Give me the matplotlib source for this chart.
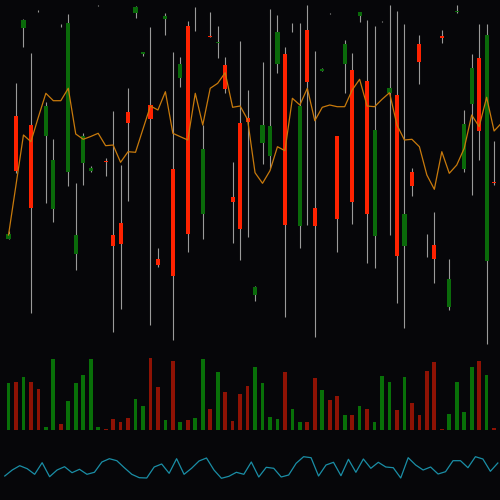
import numpy as np
import matplotlib
matplotlib.use("Agg")
import matplotlib.pyplot as plt

# ---- data ----
opens = [31.13, 43.40, 52.23, 42.50, 53.93, 41.40, 34.10, 52.48, 37.83, 29.60,
         38.67, 37.93, 54.50, 38.90, 31.50, 32.73, 43.83, 53.73, 49.60, 44.50,
         29.07, 53.10, 38.10, 47.17, 52.40, 52.99, 33.60, 51.43, 50.67, 48.50,
         35.27, 42.73, 43.17, 25.50, 40.73, 39.40, 48.57, 49.60, 52.29, 32.43,
         52.00, 34.17, 47.93, 53.67, 41.43, 48.60, 48.00, 53.43, 46.93, 31.43,
         52.89, 45.67, 45.50, 30.40, 37.83, 50.57, 30.50, 30.50, 51.43, 24.33,
         53.77, 38.10, 44.60, 49.17, 28.93, 36.83, 38.83]
highs = [31.90, 46.67, 53.10, 49.73, 54.00, 44.83, 41.07, 52.60, 53.60, 36.73,
         41.67, 38.40, 54.55, 39.17, 43.90, 38.50, 46.17, 54.40, 49.83, 52.27,
         30.17, 53.67, 49.83, 49.33, 52.90, 54.33, 42.50, 53.77, 52.43, 49.33,
         38.83, 50.90, 46.00, 26.40, 48.83, 54.10, 53.50, 50.33, 52.67, 52.73,
         54.50, 49.90, 48.17, 53.73, 41.43, 51.00, 49.73, 53.83, 53.00, 52.43,
         52.95, 54.50, 53.90, 52.60, 38.17, 51.50, 31.57, 33.83, 52.00, 29.10,
         54.50, 44.00, 49.60, 52.60, 52.60, 40.90, 51.00]
lows = [31.13, 37.67, 50.33, 23.67, 53.83, 34.67, 32.83, 52.33, 36.43, 28.00,
        36.50, 37.83, 54.43, 37.40, 21.83, 24.07, 34.93, 53.17, 49.40, 22.50,
        28.33, 51.50, 21.00, 46.33, 29.77, 51.90, 31.07, 51.27, 49.23, 45.73,
        30.67, 29.00, 31.33, 24.90, 38.60, 38.17, 47.67, 23.27, 51.83, 30.17,
        32.50, 21.33, 47.90, 53.60, 29.83, 45.73, 32.60, 52.83, 28.73, 28.17,
        52.83, 31.50, 24.67, 22.17, 35.43, 46.57, 29.27, 26.73, 50.73, 24.00,
        53.67, 37.83, 35.50, 39.00, 20.60, 36.50, 35.00]
closes = [31.57, 37.90, 53.00, 34.23, 53.92, 44.40, 39.00, 52.47, 52.67, 31.50,
          41.40, 38.17, 54.51, 38.77, 30.40, 30.60, 42.73, 54.33, 49.83, 43.10,
          28.50, 53.40, 27.40, 48.60, 31.60, 53.00, 40.07, 51.27, 50.80, 46.07,
          34.83, 32.07, 42.83, 26.27, 42.50, 42.43, 51.77, 32.50, 52.30, 44.40,
          46.83, 32.40, 48.07, 53.66, 33.10, 50.60, 34.83, 53.77, 33.60, 42.00,
          52.90, 46.23, 29.40, 33.60, 36.43, 48.83, 30.49, 29.07, 51.23, 27.10,
          53.93, 42.60, 48.23, 41.93, 51.50, 36.67, 49.73]
volumes = [4670, 4770, 5270, 4830, 4100, 330, 7100, 600, 2900, 4670,
           5500, 7100, 270, 100, 1100, 770, 1200, 3070, 2400, 7230,
           4330, 1000, 6930, 800, 1000, 1170, 7100, 2100, 5770, 3830,
           930, 3600, 4400, 6270, 4730, 1300, 1100, 5830, 2100, 830,
           830, 5170, 3970, 3000, 3370, 1500, 1500, 2400, 2100, 830,
           5400, 4770, 2030, 5270, 2700, 1500, 5870, 6800, 100, 1630,
           4800, 1830, 6300, 6900, 5530, 200, 2930]
ma_line = [31.50, 36.50, 41.50, 40.83, 43.30, 45.67, 44.93, 44.93, 46.17, 41.60,
           41.07, 41.35, 41.67, 40.43, 40.50, 38.77, 39.83, 39.77, 42.10, 44.40,
           44.00, 45.83, 41.67, 41.33, 41.00, 45.67, 42.50, 46.17, 46.67, 47.73,
           44.27, 44.40, 43.05, 37.73, 36.67, 37.93, 40.33, 39.93, 45.17, 44.50,
           46.17, 42.93, 44.27, 44.50, 44.33, 44.33, 46.00, 47.07, 44.40, 44.33,
           45.07, 45.73, 42.50, 41.00, 41.07, 40.33, 37.50, 36.07, 39.83, 37.67,
           38.50, 40.17, 43.50, 42.33, 45.27, 41.90, 42.70]
oscillator = [35, 50, 60.75, 53.25, 39.25, 68.25, 33.25, 50, 58.25, 43.25,
              51.75, 39.25, 44.25, 70, 78.25, 73.25, 55.75, 39.25, 30.75, 30,
              57.5, 65, 41.75, 78.25, 39.25, 54.25, 72.5, 80, 50, 29.25,
              34.25, 44.25, 39.25, 70, 32.5, 56.75, 54.25, 32.5, 37.5, 66.75,
              83.25, 80.75, 35, 62.5, 69.25, 35.75, 76.75, 44.25, 77.5, 54.25,
              69.25, 57.5, 55.75, 30, 80.75, 62.5, 50, 57.5, 40, 45.75,
              73.25, 73.25, 55.75, 83.25, 77.5, 46.75, 67.5]

# ---- style ----
BG = "#060609"
UP_BODY = "#0a6a0a"
DN_BODY = "#ff2200"
UP_VOL = "#087008"
DN_VOL = "#8e1204"
WICK = "#9a9a9a"
MA_COL = "#c87a0c"
OSC_COL = "#1a8ea6"

o = np.array(opens); h = np.array(highs); l = np.array(lows); c = np.array(closes)
v = np.array(volumes)
x = np.arange(len(o))
up = c >= o

fig = plt.figure(figsize=(5, 5), dpi=100, facecolor=BG)
xl = (-1.14, 65.79)

ax = fig.add_axes([0, 0.3, 1, 0.7], facecolor=BG)
ax.vlines(x, l, h, color=WICK, linewidth=0.8, zorder=1)
body_bottom = np.minimum(o, c)
diff = np.abs(c - o)
body_h = np.where(diff < 0.05, 0.0, np.maximum(diff, 0.12))
ax.bar(x, body_h, bottom=body_bottom, width=0.55,
       color=np.where(up, UP_BODY, DN_BODY), linewidth=0, zorder=2)
ax.plot(x, ma_line, color=MA_COL, linewidth=0.9, zorder=3)
ax.set_xlim(*xl)
ax.set_ylim(20, 55)
ax.axis("off")

axv = fig.add_axes([0, 0.14, 1, 0.16], facecolor=BG)
axv.bar(x, v, width=0.5, color=np.where(up, UP_VOL, DN_VOL), linewidth=0)
axv.set_xlim(*xl)
axv.set_ylim(0, 8000)
axv.axis("off")

axo = fig.add_axes([0, 0.02, 1, 0.08], facecolor=BG)
axo.plot(x - 0.5, oscillator, color=OSC_COL, linewidth=0.9)
axo.set_xlim(*xl)
axo.set_ylim(0, 100)
axo.axis("off")

fig.savefig("out.png", dpi=100, facecolor=BG)
